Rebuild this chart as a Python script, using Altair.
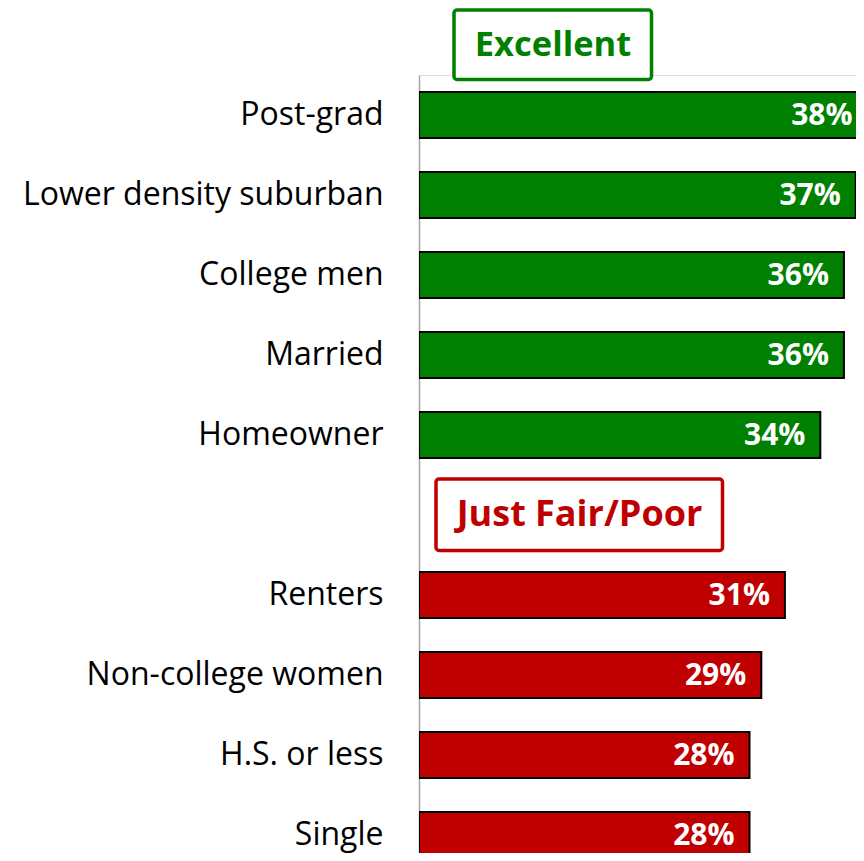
import altair as alt
import pandas as pd

# ---- data ----
categories = ["Post-grad", "Lower density suburban", "College men", "Married", "Homeowner",
              "Renters", "Non-college women", "H.S. or less", "Single"]
values = [38, 37, 36, 36, 34, 31, 29, 28, 28]
groups = ["Excellent"] * 5 + ["Just Fair/Poor"] * 4
row_order = ["Post-grad", "Lower density suburban", "College men", "Married", "Homeowner",
             "gap", "Renters", "Non-college women", "H.S. or less", "Single"]
group_names = ["Excellent", "Just Fair/Poor"]
group_colors = ["#008000", "#C00000"]

df = pd.DataFrame({"cat": categories, "val": values, "grp": groups,
                   "lbl": [f"{v}%" for v in values]})

FONT = "Open Sans"

y_enc = alt.Y("cat:N", sort=row_order,
              scale=alt.Scale(domain=row_order, range=[0, 800],
                              paddingInner=0.425, paddingOuter=0.2125),
              axis=alt.Axis(title=None, ticks=False, tickSize=0, labelPadding=36, labelLimit=600,
                            labelFontSize=32, labelFont=FONT, labelColor="#000000",
                            domainColor="#A6A6A6", domainWidth=1.5,
                            labelExpr="datum.value == 'gap' ? '' : datum.value"))
x_enc = alt.X("val:Q", scale=alt.Scale(domain=[0, 37.7], range=[0, 445], nice=False, zero=True),
              axis=None)
color_enc = alt.Color("grp:N", scale=alt.Scale(domain=group_names, range=group_colors), legend=None)

base = alt.Chart(df)

bars = base.mark_bar(stroke="#000000", strokeWidth=2, clip=True).encode(y=y_enc, x=x_enc, color=color_enc)

labels = base.mark_text(align="right", baseline="middle", dx=-15, dy=1, color="white",
                        fontSize=30, fontWeight="bold", font=FONT).encode(
    y=alt.Y("cat:N", sort=row_order), x="val:Q", text="lbl:N")

# header annotation boxes
hdr = pd.DataFrame({"name": group_names, "color": group_colors})

box1 = alt.Chart(hdr[hdr.name == "Excellent"]).mark_rect(
    fill="white", stroke=group_colors[0], strokeWidth=3.5, cornerRadius=3).encode(
    x=alt.value(35), x2=alt.value(232.5), y=alt.value(-65), y2=alt.value(4.5))
text1 = alt.Chart(hdr[hdr.name == "Excellent"]).mark_text(
    align="center", baseline="middle", fontSize=34.5, fontWeight="bold", font=FONT,
    color=group_colors[0]).encode(x=alt.value(134), y=alt.value(-29.5), text="name:N")

box2 = alt.Chart(hdr[hdr.name == "Just Fair/Poor"]).mark_rect(
    fill="white", stroke=group_colors[1], strokeWidth=3.5, cornerRadius=3).encode(
    x=alt.value(17), x2=alt.value(303.5), y=alt.value(404), y2=alt.value(475.5))
text2 = alt.Chart(hdr[hdr.name == "Just Fair/Poor"]).mark_text(
    align="center", baseline="middle", fontSize=36, fontWeight="bold", font=FONT,
    color=group_colors[1]).encode(x=alt.value(160.5), y=alt.value(440), text="name:N")

chart = alt.layer(bars, labels, box1, text1, box2, text2).properties(
    width=437, height=778,
    autosize=alt.AutoSizeParams(type="none"),
    padding={"left": 411, "top": 67, "right": 0, "bottom": 0},
).configure_view(stroke=None).configure(background="white")

chart.save("out.html", embed_options={"renderer": "svg", "actions": False})
